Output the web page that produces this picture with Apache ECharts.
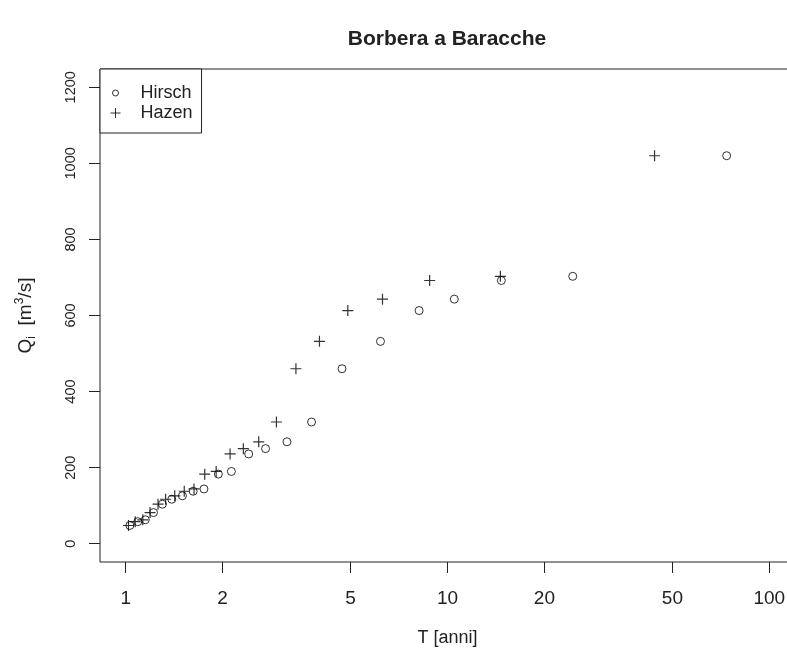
<!DOCTYPE html>
<html><head><meta charset="utf-8">
<script src="https://cdn.jsdelivr.net/npm/echarts@6/dist/echarts.min.js"></script>
<style>html,body{margin:0;padding:0;background:#fff}#c{width:787px;height:651px}</style>
</head><body><div id="c"></div>
<script>
// Portate al colmo Q_i [m^3/s], ordinate in senso decrescente
const portate = [1020, 703, 692, 643, 613, 532, 460, 320, 268, 250, 236, 190, 183, 144, 138, 126, 117, 104, 82, 63, 58, 48];
// Tempi di ritorno T [anni]
const tHirsch = [73.7, 24.5, 14.7, 10.5, 8.16, 6.19, 4.70, 3.78, 3.17, 2.72, 2.41, 2.13, 1.94, 1.75, 1.62, 1.50, 1.39, 1.30, 1.22, 1.15, 1.09, 1.03];
const tHazen = [44.0, 14.6, 8.8, 6.28, 4.9, 4.0, 3.38, 2.94, 2.59, 2.32, 2.11, 1.91, 1.76, 1.63, 1.52, 1.42, 1.33, 1.26, 1.19, 1.13, 1.07, 1.02];
const xTicks = [1, 2, 5, 10, 20, 50, 100];
const yTicks = [0, 200, 400, 600, 800, 1000, 1200];
const seriesNames = ['Hirsch', 'Hazen'];

const FONT = '"Liberation Sans", Arial, sans-serif';
const INK = '#222';
const iconCircle = 'path://M0,0M30,14M7,7A3,3 0 1 1 13,7A3,3 0 1 1 7,7Z';
const iconPlus = 'path://M0,0M30,14M10,2L10,12M5,7L15,7';

const chart = echarts.init(document.getElementById('c'), null, {renderer: 'canvas'});
chart.setOption({
  animation: false,
  backgroundColor: '#fff',
  title: {
    text: 'Borbera a Baracche',
    left: 447, top: 29, textAlign: 'center', padding: 0,
    textStyle: {fontFamily: FONT, fontSize: 21, fontWeight: 'bold', color: INK}
  },
  grid: {left: 100, top: 69, right: -8, bottom: 89, show: true, borderColor: INK, borderWidth: 1,
         containLabel: false, outerBoundsMode: 'none'},
  legend: {
    orient: 'vertical', left: 100, top: 69,
    padding: [15, 9, 11, 5], itemGap: 2, itemWidth: 30, itemHeight: 14,
    borderColor: INK, borderWidth: 1, backgroundColor: '#fff',
    selectedMode: false,
    itemStyle: {color: 'rgba(0,0,0,0)', borderColor: '#000', borderWidth: 1},
    textStyle: {fontFamily: FONT, fontSize: 18, color: INK},
    data: [{name: seriesNames[0], icon: iconCircle}, {name: seriesNames[1], icon: iconPlus}]
  },
  xAxis: {
    type: 'log', logBase: 10, min: 0.8318, max: 120.2,
    name: 'T [anni]', nameLocation: 'middle', nameGap: 67, nameMoveOverlap: false,
    nameTextStyle: {fontFamily: FONT, fontSize: 18, color: INK},
    axisLine: {show: false, onZero: false},
    axisTick: {show: true, length: 11, customValues: xTicks, lineStyle: {color: INK, width: 1}},
    minorTick: {show: false},
    splitLine: {show: false},
    axisLabel: {customValues: xTicks, formatter: v => String(v), fontFamily: FONT, fontSize: 19, color: INK, margin: 27}
  },
  yAxis: {
    type: 'value', min: -48, max: 1248,
    name: 'Q{sub|i}  [m{sup|3}/s]', nameLocation: 'middle', nameRotate: 90, nameGap: 62, nameMoveOverlap: false,
    nameTextStyle: {
      fontFamily: FONT, fontSize: 19, color: INK,
      rich: {
        sub: {fontFamily: FONT, fontSize: 12, color: INK, verticalAlign: 'bottom', lineHeight: 24},
        sup: {fontFamily: FONT, fontSize: 12, color: INK, verticalAlign: 'top', lineHeight: 24}
      }
    },
    axisLine: {show: false, onZero: false},
    axisTick: {show: true, length: 11, customValues: yTicks, lineStyle: {color: INK, width: 1}},
    splitLine: {show: false},
    axisLabel: {customValues: yTicks, formatter: v => String(v), rotate: 90, fontFamily: FONT, fontSize: 14.5, color: INK, margin: 22}
  },
  series: [
    {
      name: seriesNames[0], type: 'scatter',
      data: tHirsch.map((t, i) => [t, portate[i]]),
      symbol: 'circle', symbolSize: 8,
      itemStyle: {color: 'rgba(0,0,0,0)', borderColor: '#000', borderWidth: 1},
      emphasis: {disabled: true}
    },
    {
      name: seriesNames[1], type: 'scatter',
      data: tHazen.map((t, i) => [t, portate[i]]),
      symbol: 'path://M0,5L10,5M5,0L5,10', symbolSize: 11,
      itemStyle: {color: 'none', borderColor: '#000', borderWidth: 1.2},
      emphasis: {disabled: true}
    }
  ]
});
</script>
</body></html>
